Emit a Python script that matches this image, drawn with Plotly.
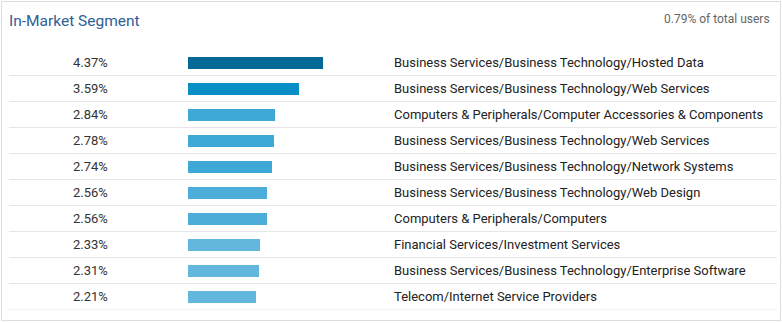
import plotly.graph_objects as go

W, H = 782, 323

title = "In-Market Segment"
subtitle = "0.79% of total users"
segments = [
    "Business Services/Business Technology/Hosted Data",
    "Business Services/Business Technology/Web Services",
    "Computers & Peripherals/Computer Accessories & Components",
    "Business Services/Business Technology/Web Services",
    "Business Services/Business Technology/Network Systems",
    "Business Services/Business Technology/Web Design",
    "Computers & Peripherals/Computers",
    "Financial Services/Investment Services",
    "Business Services/Business Technology/Enterprise Software",
    "Telecom/Internet Service Providers",
]
shares = [4.37, 3.59, 2.84, 2.78, 2.74, 2.56, 2.56, 2.33, 2.31, 2.21]
bar_colors = ["#046994", "#098ec6", "#3ea8d6", "#3ea8d6", "#3ea8d6",
              "#4cadd9", "#4cadd9", "#63b7dd", "#63b7dd", "#63b7dd"]

rows = list(range(len(shares)))

# pixel geometry
bar_x0 = 188
px_per_unit = 30.8
top_px, row_h = 49.5, 26
n = len(shares)
bot_px = top_px + row_h * n

fig = go.Figure()
fig.add_trace(go.Bar(
    x=shares, y=rows, orientation="h",
    marker=dict(color=bar_colors, line=dict(width=0)),
    width=12 / row_h, hoverinfo="skip",
))

font = "Roboto, Arial, sans-serif"
ann = []
for i, (v, s) in enumerate(zip(shares, segments)):
    ann.append(dict(x=108 / W, xref="paper", y=i, yref="y", text=f"{v:.2f}%",
                    showarrow=False, xanchor="right", yanchor="middle", xshift=2,
                    font=dict(family=font, size=13, color="#333333")))
    ann.append(dict(x=394 / W, xref="paper", y=i, yref="y", text=s,
                    showarrow=False, xanchor="left", yanchor="middle", xshift=-2,
                    font=dict(family=font, size=13, color="#222222")))
ann.append(dict(x=9 / W, xref="paper", y=1 - 21 / H, yref="paper", text=title,
                showarrow=False, xanchor="left", yanchor="middle", xshift=-2,
                font=dict(family=font, size=15.5, color="#2f5f95")))
ann.append(dict(x=770 / W, xref="paper", y=1 - 19 / H, yref="paper", text=subtitle,
                showarrow=False, xanchor="right", yanchor="middle", xshift=2,
                font=dict(family=font, size=12, color="#666666")))

shapes = [dict(type="rect", xref="paper", yref="paper",
               x0=1.5 / W, x1=780.5 / W, y0=1 - 320.5 / H, y1=1 - 1.5 / H,
               line=dict(color="#dddddd", width=1), layer="below")]
for i in rows:
    shapes.append(dict(type="line", xref="paper", yref="y",
                       x0=9 / W, x1=777 / W, y0=i + 0.5, y1=i + 0.5,
                       line=dict(color="#e6e6e6", width=1), layer="below"))

fig.update_layout(
    width=W, height=H, margin=dict(l=0, r=0, t=0, b=0),
    paper_bgcolor="white", plot_bgcolor="white", showlegend=False,
    bargap=0,
    xaxis=dict(domain=[bar_x0 / W, 1], range=[0, (W - bar_x0) / px_per_unit],
               visible=False, fixedrange=True),
    yaxis=dict(domain=[1 - bot_px / H, 1 - top_px / H], range=[n - 0.5, -0.5],
               visible=False, fixedrange=True),
    annotations=ann, shapes=shapes,
)

fig.write_html("out.html", config={"displayModeBar": False})
